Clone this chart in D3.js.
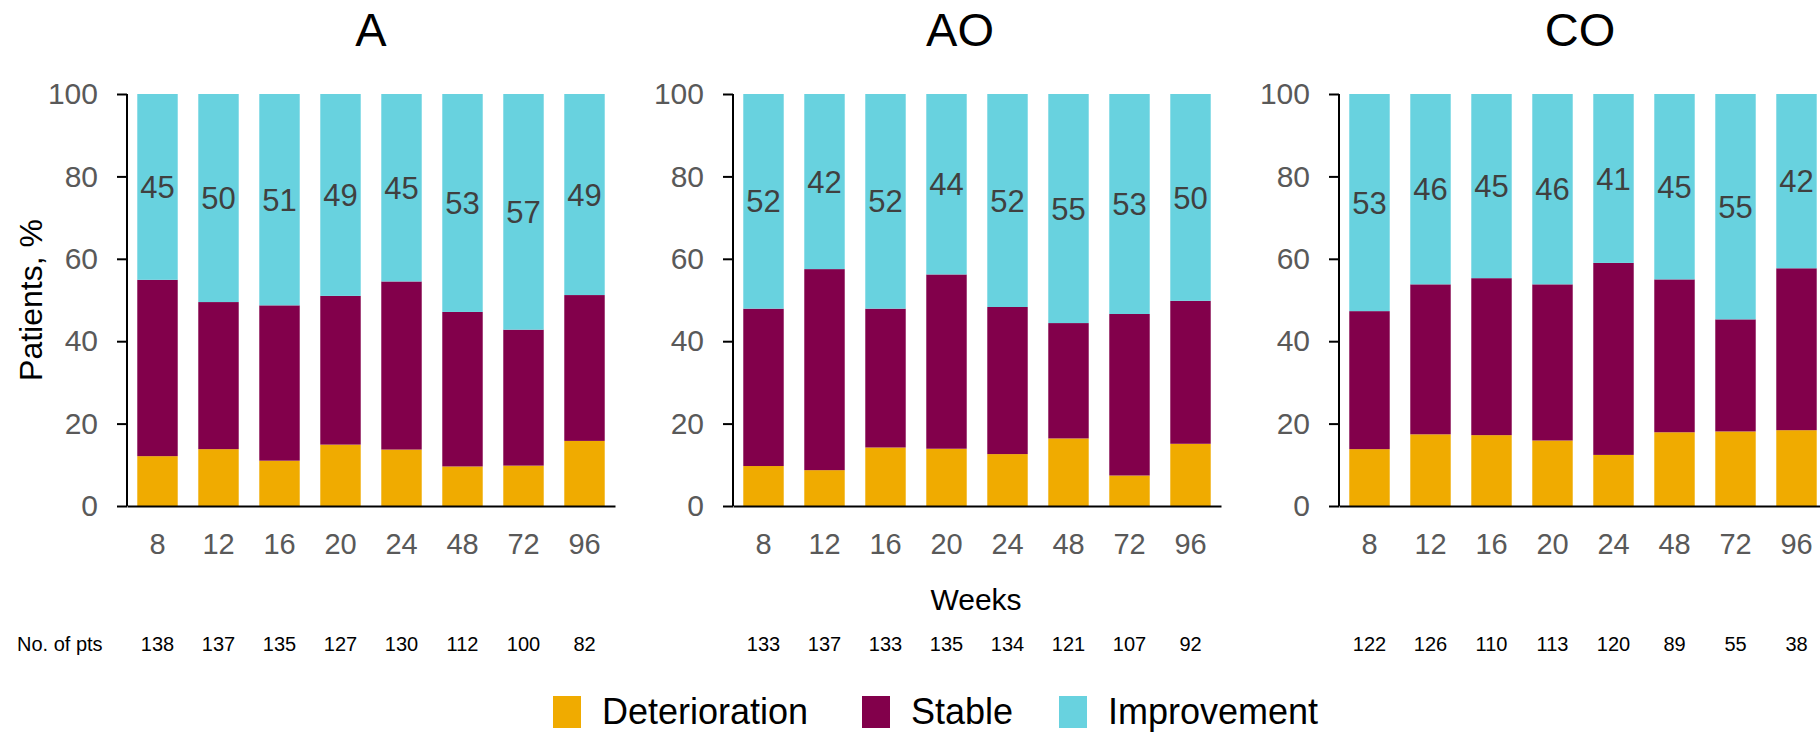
<!DOCTYPE html>
<html>
<head>
<meta charset="utf-8">
<script src="https://cdn.jsdelivr.net/npm/d3@7"></script>
<style>
  body { margin: 0; background: #fff; }
  svg { display: block; font-family: "Liberation Sans", Arial, sans-serif; }
</style>
</head>
<body>
<svg id="chart" width="1820" height="733"></svg>
<script>
// Data
const weeks = ["8", "12", "16", "20", "24", "48", "72", "96"]
const panelNames = ["A", "AO", "CO"]
const seriesNames = ["Deterioration", "Stable", "Improvement"]

const detA = [12.1, 13.8, 11.0, 14.9, 13.7, 9.6, 9.8, 15.8]
const stabA = [42.8, 35.7, 37.7, 36.1, 40.8, 37.5, 33.0, 35.4]
const impA = [45.1, 50.5, 51.3, 49.0, 45.5, 52.9, 57.2, 48.8]
const labA = [45, 50, 51, 49, 45, 53, 57, 49]
const ptsA = [138, 137, 135, 127, 130, 112, 100, 82]

const detAO = [9.7, 8.7, 14.2, 13.9, 12.6, 16.4, 7.4, 15.1]
const stabAO = [38.2, 48.8, 33.7, 42.3, 35.7, 28.0, 39.2, 34.7]
const impAO = [52.1, 42.5, 52.1, 43.8, 51.7, 55.6, 53.4, 50.2]
const labAO = [52, 42, 52, 44, 52, 55, 53, 50]
const ptsAO = [133, 137, 133, 135, 134, 121, 107, 92]

const detCO = [13.8, 17.4, 17.2, 15.9, 12.4, 17.9, 18.1, 18.4]
const stabCO = [33.5, 36.4, 38.1, 37.9, 46.6, 37.1, 27.2, 39.3]
const impCO = [52.7, 46.2, 44.7, 46.2, 41.0, 45.0, 54.7, 42.3]
const labCO = [53, 46, 45, 46, 41, 45, 55, 42]
const ptsCO = [122, 126, 110, 113, 120, 89, 55, 38]

const yTicks = [0, 20, 40, 60, 80, 100]

const colors = ["#F0AB00", "#82004B", "#68D2DF"]

// Layout
const svg = d3.select("#chart")
const plotTop = 94, plotBottom = 506, plotWidth = 488
const panelLeft = [127, 733, 1339]
const titleX = [371, 960, 1580]

const y = d3.scaleLinear().domain([0, 100]).range([plotBottom, plotTop])
const color = d3.scaleOrdinal().domain(seriesNames).range(colors)

const panelData = [
  {det: detA, stab: stabA, imp: impA, lab: labA, pts: ptsA},
  {det: detAO, stab: stabAO, imp: impAO, lab: labAO, pts: ptsAO},
  {det: detCO, stab: stabCO, imp: impCO, lab: labCO, pts: ptsCO}
]

panelData.forEach(function(p, k) {
  let left = panelLeft[k]
  let x = d3.scaleBand().domain(weeks)
    .range([left, left + plotWidth])
    .paddingInner(0.337).paddingOuter(0.1685)

  let rows = weeks.map(function(w, i) {
    return {week: w, Deterioration: p.det[i], Stable: p.stab[i], Improvement: p.imp[i]}
  })
  let stacked = d3.stack().keys(seriesNames).offset(d3.stackOffsetExpand)(rows)

  let g = svg.append("g")

  g.selectAll("g.series")
    .data(stacked)
    .enter().append("g")
      .attr("class", "series")
      .attr("fill", function(d) { return color(d.key) })
    .selectAll("rect")
    .data(function(d) { return d })
    .enter().append("rect")
      .attr("x", function(d) { return x(d.data.week) })
      .attr("width", x.bandwidth())
      .attr("y", function(d) { return y(d[1] * 100) })
      .attr("height", function(d) { return y(d[0] * 100) - y(d[1] * 100) })

  // improvement labels
  let top = stacked[2]
  g.selectAll("text.lab")
    .data(top)
    .enter().append("text")
      .attr("class", "lab")
      .attr("x", function(d) { return x(d.data.week) + x.bandwidth() / 2 })
      .attr("y", function(d) { return y((d[0] + d[1]) * 50) })
      .attr("dy", "0.36em")
      .attr("text-anchor", "middle")
      .attr("font-size", 31)
      .attr("fill", "#404040")
      .text(function(d, i) { return p.lab[i] })

  // axes
  let yAxis = g.append("g")
    .attr("transform", "translate(" + left + ",0)")
    .call(d3.axisLeft(y).tickValues(yTicks).tickSize(10).tickPadding(19))
  yAxis.selectAll("text").attr("font-size", 30).attr("fill", "#595959")
  yAxis.selectAll("line").attr("stroke", "#000").attr("stroke-width", 2)
  yAxis.select(".domain").attr("stroke", "#000").attr("stroke-width", 2)
    .attr("d", "M0," + plotTop + "V" + plotBottom)

  let xAxis = g.append("g")
    .attr("transform", "translate(0," + plotBottom + ")")
    .call(d3.axisBottom(x).tickSize(0).tickPadding(27))
  xAxis.selectAll("text").attr("font-size", 29).attr("fill", "#595959")
  xAxis.select(".domain").attr("stroke", "#000").attr("stroke-width", 2)

  // title
  g.append("text")
    .attr("x", titleX[k])
    .attr("y", 46)
    .attr("text-anchor", "middle")
    .attr("font-size", 47)
    .attr("fill", "#000")
    .text(panelNames[k])

  // number of patients
  g.selectAll("text.pts")
    .data(p.pts)
    .enter().append("text")
      .attr("class", "pts")
      .attr("x", function(d, i) { return x(weeks[i]) + x.bandwidth() / 2 })
      .attr("y", 651)
      .attr("text-anchor", "middle")
      .attr("font-size", 20)
      .attr("fill", "#000")
      .text(function(d) { return d })
})

svg.append("text")
  .attr("x", 17)
  .attr("y", 651)
  .attr("font-size", 20)
  .text("No. of pts")

svg.append("text")
  .attr("transform", "translate(42,300) rotate(-90)")
  .attr("text-anchor", "middle")
  .attr("font-size", 32)
  .text("Patients, %")

svg.append("text")
  .attr("x", 976)
  .attr("y", 610)
  .attr("text-anchor", "middle")
  .attr("font-size", 30)
  .text("Weeks")

// legend
const legendX = [553, 862, 1059]
let legend = svg.selectAll("g.legend")
  .data(seriesNames)
  .enter().append("g")
    .attr("class", "legend")
    .attr("transform", function(d, i) { return "translate(" + legendX[i] + ",696)" })
legend.append("rect")
  .attr("width", 28).attr("height", 32)
  .attr("fill", function(d) { return color(d) })
legend.append("text")
  .attr("x", 49).attr("y", 28)
  .attr("font-size", 36)
  .text(function(d) { return d })
</script>
</body>
</html>
